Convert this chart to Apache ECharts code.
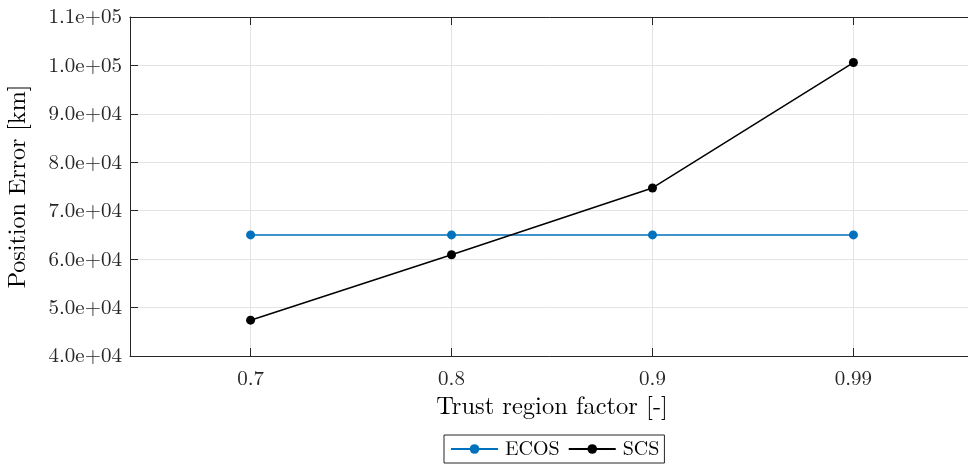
<!DOCTYPE html>
<html>
<head>
<meta charset="utf-8">
<script src="https://cdn.jsdelivr.net/npm/echarts@6/dist/echarts.min.js"></script>
<style>
  html, body { margin: 0; padding: 0; background: #fff; }
  #chart { width: 968px; height: 466px; }
</style>
</head>
<body>
<div id="chart"></div>
<script>
// Trust region factor settings (evenly spaced on the axis)
const factors = ['0.7', '0.8', '0.9', '0.99'];
// Final position error per solver [km]
const ecosError = [65000, 65000, 65000, 65000];
const scsError = [47400, 60900, 74700, 100600];
// Y axis range and step
const yMin = 40000, yMax = 110000, yStep = 10000;

const positions = factors.map((_, i) => i);
const font = '"Latin Modern Roman", "Liberation Serif", "DejaVu Serif", serif';
const axisColor = '#262626';
const gridColor = '#e3e3e3';

const chart = echarts.init(document.getElementById('chart'), null, { renderer: 'canvas' });

chart.setOption({
  animation: false,
  backgroundColor: '#ffffff',
  grid: { left: 130, top: 17, width: 844, height: 339, containLabel: false, outerBoundsMode: 'none' },
  legend: {
    bottom: 3,
    left: 444,
    data: ['ECOS', 'SCS'],
    itemWidth: 47,
    itemHeight: 12,
    itemGap: 8,
    padding: [4, 5, 4, 6],
    borderColor: '#262626',
    borderWidth: 1,
    textStyle: { fontFamily: font, fontSize: 20, color: '#000', padding: [0, 0, 0, 2] }
  },
  xAxis: [
    {
      type: 'value',
      min: -0.6,
      max: 3.6,
      position: 'bottom',
      name: 'Trust region factor [-]',
      nameLocation: 'middle',
      nameGap: 38,
      nameTextStyle: { fontFamily: font, fontSize: 24.5, color: '#000' },
      axisLine: { show: true, onZero: false, lineStyle: { color: axisColor, width: 1 } },
      axisTick: { show: true, inside: true, length: 8, customValues: positions, lineStyle: { color: axisColor } },
      axisLabel: {
        customValues: positions,
        formatter: v => factors[Math.round(v)] || '',
        fontFamily: font, fontSize: 21, color: '#262626', margin: 12
      },
      splitLine: { show: true, lineStyle: { color: gridColor, width: 1 } }
    },
    {
      type: 'value',
      min: -0.6,
      max: 3.6,
      position: 'top',
      axisLine: { show: true, onZero: false, lineStyle: { color: axisColor, width: 1 } },
      axisTick: { show: true, inside: true, length: 8, customValues: positions, lineStyle: { color: axisColor } },
      axisLabel: { show: false },
      splitLine: { show: false }
    }
  ],
  yAxis: {
    type: 'value',
    min: yMin,
    max: yMax,
    interval: yStep,
    name: 'Position Error [km]',
    nameLocation: 'middle',
    nameGap: 100,
    nameTextStyle: { fontFamily: font, fontSize: 24, color: '#000' },
    axisLine: { show: true, onZero: false, lineStyle: { color: axisColor, width: 1 } },
    axisTick: { show: true, inside: true, length: 8, lineStyle: { color: axisColor } },
    axisLabel: {
      formatter: v => {
        const e = Math.floor(Math.log10(v));
        const m = v / Math.pow(10, e);
        return m.toFixed(1) + 'e+' + String(e).padStart(2, '0');
      },
      fontFamily: font, fontSize: 21, color: '#262626', margin: 8
    },
    splitLine: { show: true, lineStyle: { color: gridColor, width: 1 } }
  },
  series: [
    {
      name: 'ECOS',
      type: 'line',
      xAxisIndex: 0,
      data: positions.map((x, i) => [x, ecosError[i]]),
      symbol: 'circle',
      symbolSize: 9,
      lineStyle: { color: '#0072BD', width: 1.5 },
      itemStyle: { color: '#0072BD' }
    },
    {
      name: 'SCS',
      type: 'line',
      xAxisIndex: 0,
      data: positions.map((x, i) => [x, scsError[i]]),
      symbol: 'circle',
      symbolSize: 9,
      lineStyle: { color: '#000000', width: 1.5 },
      itemStyle: { color: '#000000' }
    }
  ]
});
</script>
</body>
</html>
